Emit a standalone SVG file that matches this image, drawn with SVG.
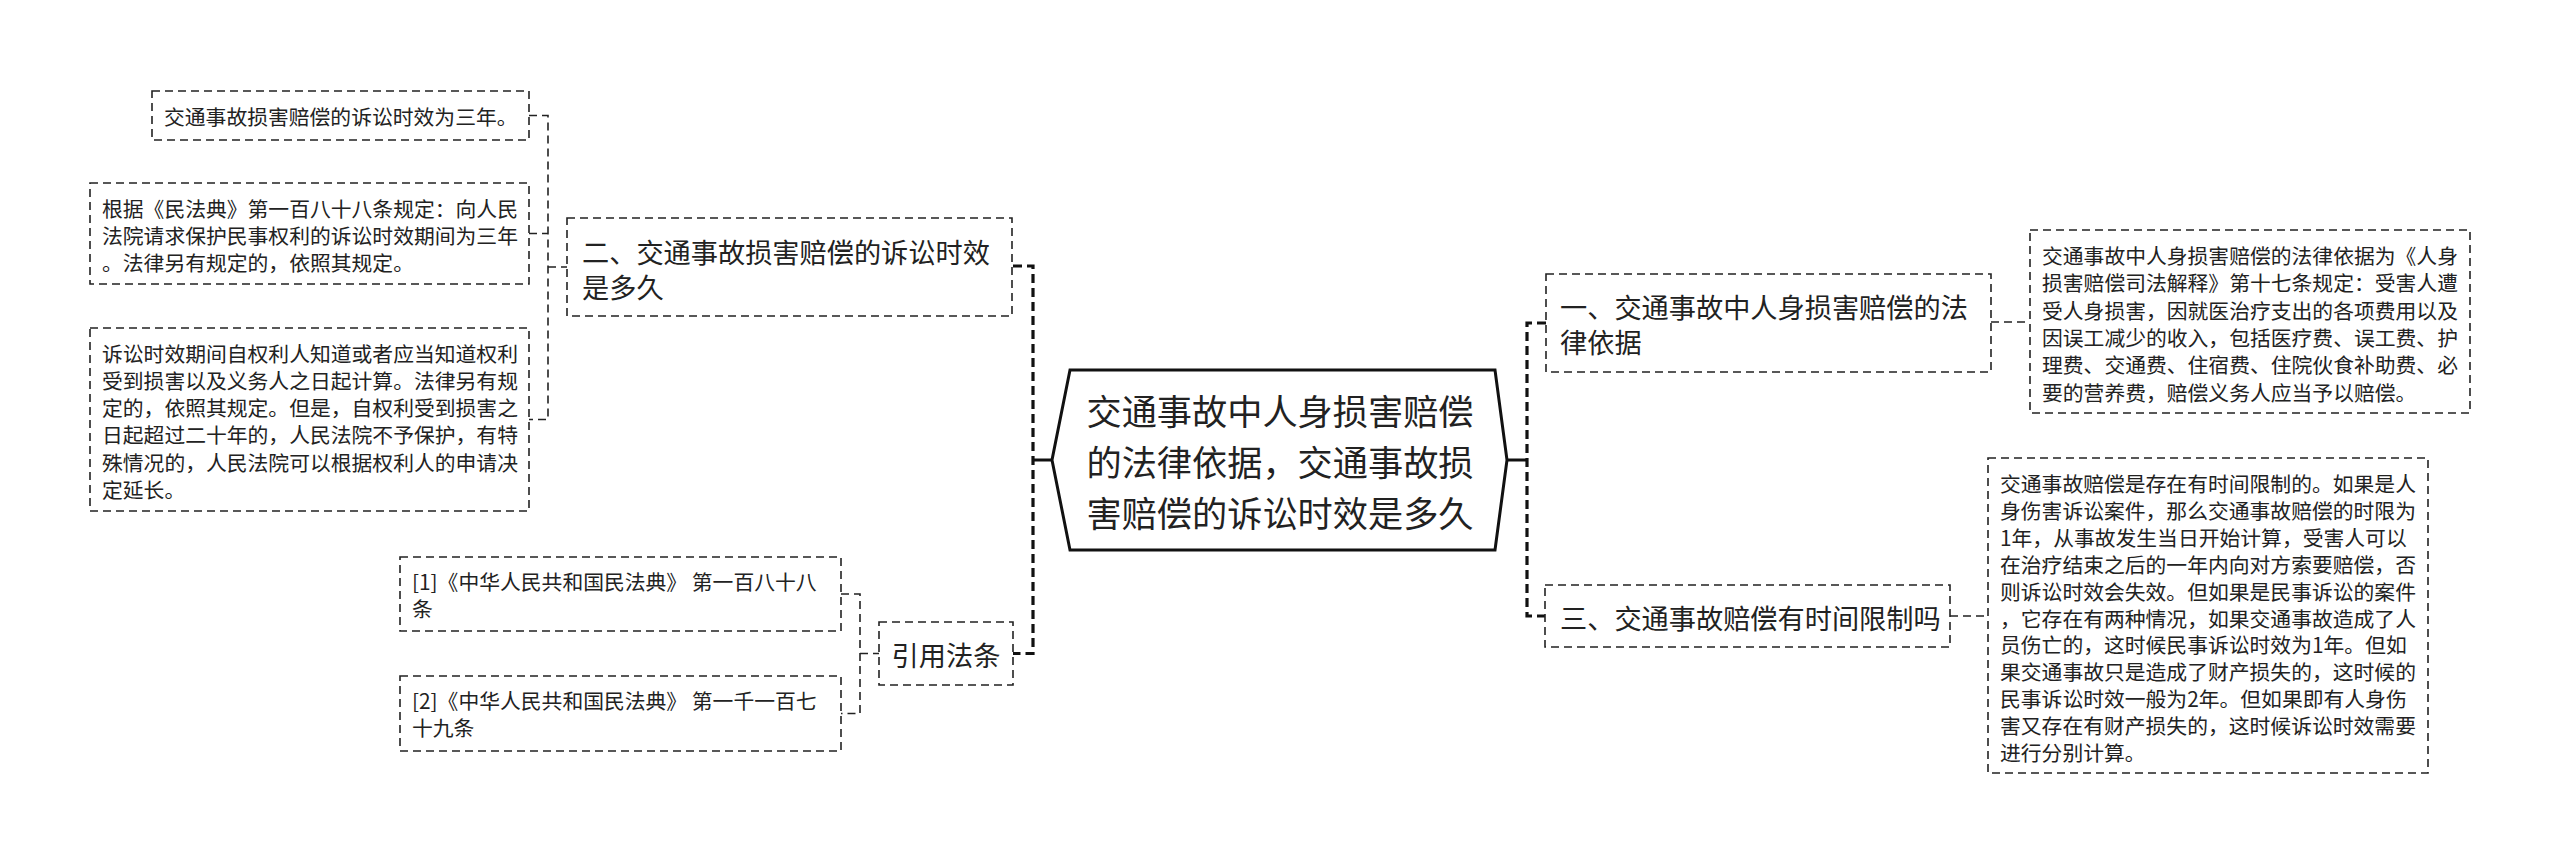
<svg xmlns="http://www.w3.org/2000/svg" width="2560" height="865" viewBox="0 0 2560 865">
<style>
.box{fill:#fff;stroke:#222;stroke-width:1.6;stroke-dasharray:8 5}
.thin{fill:none;stroke:#222;stroke-width:1.6;stroke-dasharray:8 5}
.thick{fill:none;stroke:#111;stroke-width:3.2;stroke-dasharray:9 5}
.solid{fill:none;stroke:#111;stroke-width:3}
text{font-family:"Noto Sans CJK SC","Microsoft YaHei",sans-serif;fill:#222;dominant-baseline:central}
.leaf{font-size:20.8px}
.sub{font-size:27.2px}
.root{font-size:35.2px}
</style>
<rect width="2560" height="865" fill="#fff"/>
<g id="connectors">
  <path class="thin" d="M529 115.5H548V419.5H529M529 233.5H548M548 267H567"/>
  <path class="thick" d="M1013 266H1033V653.5H1013"/>
  <path class="solid" d="M1033 460H1052"/>
  <path class="thin" d="M841 594H860V713.5H841M860 653.5H879"/>
  <path class="solid" d="M1507 460H1527"/>
  <path class="thick" d="M1546 323H1527V616H1545"/>
  <path class="thin" d="M1991 322H2030"/>
  <path class="thin" d="M1950 616H1988"/>
</g>
<g id="root">
  <polygon points="1070,370 1495,370 1507,460 1495,550 1070,550 1052,460" fill="#fff" stroke="#111" stroke-width="3"/>
  <text class="root" x="1280" y="409" text-anchor="middle">交通事故中人身损害赔偿</text>
  <text class="root" x="1280" y="460" text-anchor="middle">的法律依据，交通事故损</text>
  <text class="root" x="1280" y="511" text-anchor="middle">害赔偿的诉讼时效是多久</text>
</g>
<g id="n2">
  <rect class="box" x="567" y="218" width="445" height="98"/>
  <text class="sub" x="582" y="251">二、交通事故损害赔偿的诉讼时效</text>
  <text class="sub" x="582" y="286">是多久</text>
</g>
<g id="n2a">
  <rect class="box" x="152" y="91" width="377" height="49"/>
  <text class="leaf" x="164" y="116">交通事故损害赔偿的诉讼时效为三年。</text>
</g>
<g id="n2b">
  <rect class="box" x="90" y="183" width="439" height="101"/>
  <text class="leaf" x="102" y="207.5">根据《民法典》第一百八十八条规定：向人民</text>
  <text class="leaf" x="102" y="234.8">法院请求保护民事权利的诉讼时效期间为三年</text>
  <text class="leaf" x="102" y="262">。法律另有规定的，依照其规定。</text>
</g>
<g id="n2c">
  <rect class="box" x="90" y="328" width="439" height="183"/>
  <text class="leaf" x="102" y="352.5">诉讼时效期间自权利人知道或者应当知道权利</text>
  <text class="leaf" x="102" y="379.8">受到损害以及义务人之日起计算。法律另有规</text>
  <text class="leaf" x="102" y="407.1">定的，依照其规定。但是，自权利受到损害之</text>
  <text class="leaf" x="102" y="434.4">日起超过二十年的，人民法院不予保护，有特</text>
  <text class="leaf" x="102" y="461.7">殊情况的，人民法院可以根据权利人的申请决</text>
  <text class="leaf" x="102" y="489">定延长。</text>
</g>
<g id="nref">
  <rect class="box" x="879" y="622" width="134" height="63"/>
  <text class="sub" x="946" y="654" text-anchor="middle">引用法条</text>
</g>
<g id="nref1">
  <rect class="box" x="400" y="557" width="441" height="74"/>
  <text class="leaf" x="412" y="580.5">[1]《中华人民共和国民法典》 第一百八十八</text>
  <text class="leaf" x="412" y="607.5">条</text>
</g>
<g id="nref2">
  <rect class="box" x="400" y="676" width="441" height="75"/>
  <text class="leaf" x="412" y="700">[2]《中华人民共和国民法典》 第一千一百七</text>
  <text class="leaf" x="412" y="727">十九条</text>
</g>
<g id="n1">
  <rect class="box" x="1546" y="274" width="445" height="98"/>
  <text class="sub" x="1560" y="306">一、交通事故中人身损害赔偿的法</text>
  <text class="sub" x="1560" y="341">律依据</text>
</g>
<g id="n1a">
  <rect class="box" x="2030" y="230" width="440" height="183"/>
  <text class="leaf" x="2042" y="255">交通事故中人身损害赔偿的法律依据为《人身</text>
  <text class="leaf" x="2042" y="282.3">损害赔偿司法解释》第十七条规定：受害人遭</text>
  <text class="leaf" x="2042" y="309.6">受人身损害，因就医治疗支出的各项费用以及</text>
  <text class="leaf" x="2042" y="336.9">因误工减少的收入，包括医疗费、误工费、护</text>
  <text class="leaf" x="2042" y="364.2">理费、交通费、住宿费、住院伙食补助费、必</text>
  <text class="leaf" x="2042" y="391.5">要的营养费，赔偿义务人应当予以赔偿。</text>
</g>
<g id="n3">
  <rect class="box" x="1545" y="585" width="405" height="62"/>
  <text class="sub" x="1560" y="617">三、交通事故赔偿有时间限制吗</text>
</g>
<g id="n3a">
  <rect class="box" x="1988" y="458" width="440" height="315"/>
  <text class="leaf" x="2000" y="483">交通事故赔偿是存在有时间限制的。如果是人</text>
  <text class="leaf" x="2000" y="509.9">身伤害诉讼案件，那么交通事故赔偿的时限为</text>
  <text class="leaf" x="2000" y="536.8">1年，从事故发生当日开始计算，受害人可以</text>
  <text class="leaf" x="2000" y="563.7">在治疗结束之后的一年内向对方索要赔偿，否</text>
  <text class="leaf" x="2000" y="590.6">则诉讼时效会失效。但如果是民事诉讼的案件</text>
  <text class="leaf" x="2000" y="617.5">，它存在有两种情况，如果交通事故造成了人</text>
  <text class="leaf" x="2000" y="644.4">员伤亡的，这时候民事诉讼时效为1年。但如</text>
  <text class="leaf" x="2000" y="671.3">果交通事故只是造成了财产损失的，这时候的</text>
  <text class="leaf" x="2000" y="698.2">民事诉讼时效一般为2年。但如果即有人身伤</text>
  <text class="leaf" x="2000" y="725.1">害又存在有财产损失的，这时候诉讼时效需要</text>
  <text class="leaf" x="2000" y="752">进行分别计算。</text>
</g>
</svg>
